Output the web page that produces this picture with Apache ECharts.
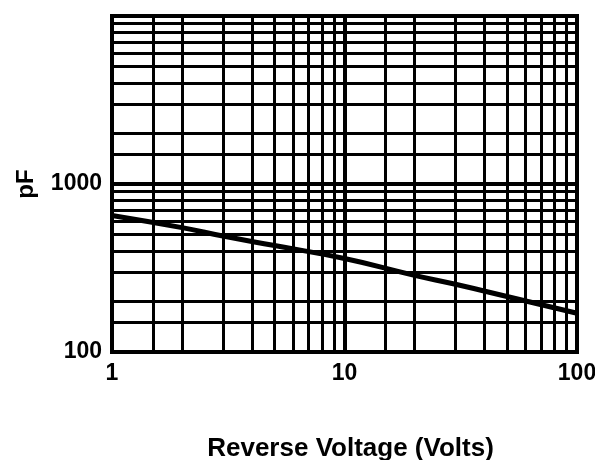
<!DOCTYPE html>
<html><head><meta charset="utf-8">
<script src="https://cdn.jsdelivr.net/npm/echarts@6/dist/echarts.min.js"></script>
<style>html,body{margin:0;padding:0;background:#fff}#c{width:595px;height:460px}</style>
</head><body><div id="c"></div>
<script>
const voltage = [1, 2, 3, 5, 10, 20, 30, 50, 100];
const capacitance = [650, 550, 490, 430, 360, 286, 253, 214, 170];
const xMinorGrid = [1.5, 2, 3, 4, 5, 6, 7, 8, 9, 15, 20, 30, 40, 50, 60, 70, 80, 90];
const yMinorGrid = [150, 200, 300, 400, 500, 600, 700, 800, 900, 1500, 2000, 3000, 4000, 5000, 6000, 7000, 8000, 9000];
const xTitle = 'Reverse Voltage (Volts)';
const yTitle = 'pF';

const font = '"Liberation Sans", Arial, sans-serif';
const chart = echarts.init(document.getElementById('c'), null, {renderer: 'canvas'});
chart.setOption({
  animation: false,
  backgroundColor: '#fff',
  grid: {left: 112, right: 18, top: 16, bottom: 108, show: true, borderColor: '#000', borderWidth: 4,
    outerBoundsMode: 'none', containLabel: false},
  xAxis: {
    type: 'log', min: 1, max: 100, logBase: 10,
    name: xTitle, nameLocation: 'middle', nameGap: 84,
    nameTextStyle: {fontFamily: font, fontWeight: 'bold', fontSize: 26, color: '#000', padding: [0, 0, 0, 12]},
    axisLine: {show: false}, axisTick: {show: false},
    axisLabel: {fontFamily: font, fontWeight: 'bold', fontSize: 23, color: '#000', margin: 10},
    splitLine: {show: true, lineStyle: {color: '#000', width: 4}}
  },
  yAxis: {
    type: 'log', min: 100, max: 10000, logBase: 10,
    name: yTitle, nameLocation: 'middle', nameGap: 74, nameRotate: 90,
    nameTextStyle: {fontFamily: font, fontWeight: 'bold', fontSize: 24, color: '#000'},
    axisLine: {show: false}, axisTick: {show: false},
    axisLabel: {fontFamily: font, fontWeight: 'bold', fontSize: 23, color: '#000', margin: 10, showMaxLabel: false,
      formatter: v => (v >= 9999 ? '' : String(Math.round(v)))},
    splitLine: {show: true, lineStyle: {color: '#000', width: 4}}
  },
  series: [
    {
      type: 'line', data: [], silent: true,
      markLine: {
        silent: true, symbol: 'none', label: {show: false},
        lineStyle: {color: '#000', width: 3, type: 'solid'},
        data: xMinorGrid.map(v => ({xAxis: v})).concat(yMinorGrid.map(v => ({yAxis: v})))
      }
    },
    {
      type: 'line', data: voltage.map((v, i) => [v, capacitance[i]]),
      smooth: true, showSymbol: false, symbol: 'none',
      lineStyle: {color: '#000', width: 5}, z: 5
    }
  ]
});
</script></body></html>
